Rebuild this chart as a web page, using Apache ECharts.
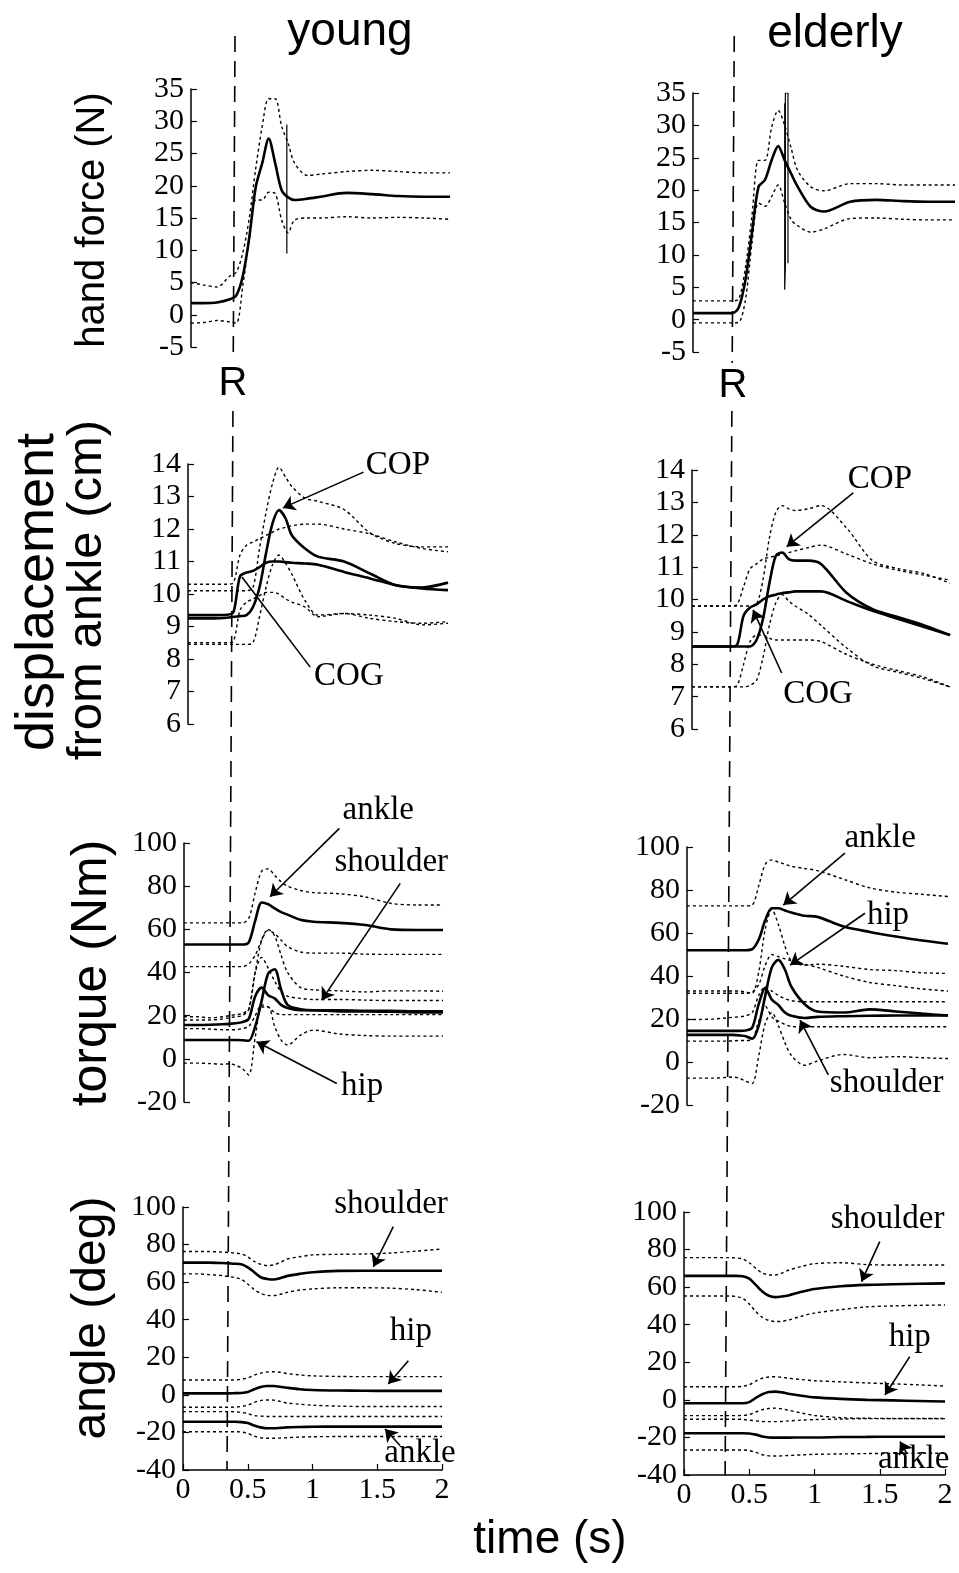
<!DOCTYPE html>
<html>
<head>
<meta charset="utf-8">
<script src="https://cdn.jsdelivr.net/npm/echarts/dist/echarts.min.js"></script>
<style>html,body{margin:0;padding:0;background:#fff}#main{width:959px;height:1573px}</style>
</head>
<body>
<div id="main"></div>
<script>
// time base (s) shared by every trace
var T = [0, 0.1, 0.2, 0.3, 0.35, 0.4, 0.45, 0.5, 0.55, 0.6, 0.65, 0.7, 0.75, 0.8, 0.9, 1.0, 1.2, 1.4, 1.6, 1.8, 2.0];

// axis ranges [min, max, step]
var forceAxis = [-5, 35, 5];
var dispAxis = [6, 14, 1];
var torqueAxis = [-20, 100, 20];
var angleAxis = [-40, 100, 20];
var timeAxis = [0, 2, 0.5];
var rYoung = 0.34, rOld = 0.315;

// hand force (N)
var yfMean = [1.8,1.8,1.9,2.4,3,6,12,19.8,23.5,27.3,23.5,19.3,18.2,17.8,18,18.3,18.9,18.7,18.4,18.3,18.3];
var yfUp   = [5,4.6,4.3,6,6.6,9.6,15,22.7,29.2,33.5,33.5,29.2,26.6,23.5,21.6,21.8,22.2,22.4,22.2,22,22];
var yfLow  = [-1.3,-1.2,-0.9,-1.1,-1.3,4.5,11.6,17.8,17.8,19,18.8,14.7,12.7,14.7,15,15,15.2,15,15.1,15,14.8];
var yfSpikeT = [0.74, 0.74];
var yfSpikeV = [29.5, 9.5];
var efMean = [1,1,1,1,1.9,6.1,13.4,20.5,21.6,24.6,26.8,24.6,22.5,20.5,17.4,16.7,18.2,18.5,18.3,18.2,18.2];
var efUp   = [2.9,2.9,2.9,2.9,3.2,8,16,24.6,24.6,29.7,32.3,30,26.4,23,20.5,19.9,21,21,20.8,20.8,20.8];
var efLow  = [-0.5,-0.5,-0.5,-0.5,-0.4,3,11.8,18,17.5,19,20.8,18,15.4,14.5,13.5,14,15.6,15.7,15.5,15.4,15.4];
var efSpikeT = [0.70, 0.70, 0.705, 0.705, 0.725, 0.725];
var efSpikeV = [33.4, 4.6, 8.2, 35, 35, 8.7];

// displacement from ankle (cm)
var ydCopMean = [9.25,9.25,9.25,9.27,9.3,9.32,9.35,9.6,10.2,11.25,12.17,12.58,12.33,11.8,11.4,11.15,11.0,10.63,10.27,10.2,10.35];
var ydCopUp   = [10.1,10.1,10.1,10.1,10.1,10.1,10.1,10.2,11.4,12.5,13.4,13.9,13.6,13.3,12.95,12.85,12.6,11.88,11.55,11.45,11.45];
var ydCopLow  = [8.45,8.45,8.45,8.45,8.45,8.45,8.45,8.5,9.3,10.2,10.9,11.2,10.95,10.6,9.8,9.35,9.4,9.35,9.25,9.05,9.1];
var ydCogMean = [9.35,9.35,9.35,9.36,9.45,10.54,10.66,10.71,10.83,10.96,11.0,11.0,10.98,10.96,10.94,10.9,10.68,10.48,10.27,10.17,10.12];
var ydCogUp   = [10.3,10.3,10.3,10.3,10.35,11.2,11.5,11.6,11.7,11.8,11.9,12.0,12.05,12.1,12.15,12.15,12.0,11.85,11.6,11.4,11.3];
var ydCogLow  = [8.5,8.5,8.5,8.5,8.55,9.5,9.75,9.85,9.95,10.05,10.05,10.0,9.85,9.75,9.6,9.3,9.4,9.25,9.15,9.1,9.15];
var edCopMean = [8.55,8.55,8.55,8.55,8.55,8.55,8.55,8.75,9.4,10.5,11.35,11.45,11.25,11.2,11.2,11.1,10.2,9.7,9.45,9.2,8.9];
var edCopUp   = [9.8,9.8,9.8,9.8,9.8,9.8,9.8,9.85,10.6,11.9,12.7,12.9,12.8,12.75,12.8,12.9,12.2,11.2,10.95,10.8,10.5];
var edCopLow  = [7.3,7.3,7.3,7.3,7.3,7.3,7.35,7.5,8.2,9.2,9.9,10.15,9.95,9.8,9.55,9.2,8.5,7.95,7.75,7.55,7.3];
var edCogMean = [8.55,8.55,8.55,8.55,8.6,9.5,9.75,9.85,10.0,10.1,10.15,10.2,10.22,10.25,10.25,10.25,9.95,9.65,9.4,9.15,8.9];
var edCogUp   = [9.8,9.8,9.8,9.8,9.85,10.4,10.95,11.1,11.25,11.3,11.35,11.4,11.45,11.5,11.6,11.68,11.4,11.1,10.9,10.75,10.6];
var edCogLow  = [7.3,7.3,7.3,7.3,7.35,8.0,8.7,8.9,8.9,8.8,8.75,8.75,8.75,8.75,8.75,8.7,8.3,8.0,7.8,7.6,7.3];

// torque (Nm)
var ytAnkMean = [53,53,53,53,53,53,53,54,64,72.4,71.6,69.7,68,66.8,64.4,63.5,63,62,60,59.7,59.7];
var ytAnkUp   = [63,63,63,63,63,63,63,65,77,87,88,85,82,80,78,77,76.5,75,72,71.3,71.3];
var ytAnkLow  = [42.7,42.7,42.7,42.7,42.7,42.7,42.7,44,48,55,59.5,58,55,52,49.5,49,49,48.5,48.4,48.4,48.4];
var ytHipMean = [8.7,8.7,8.7,8.7,8.7,8.7,8.6,8.4,15,27,39.5,41.5,32,25,23,22.5,22.5,22.3,22.3,22,22];
var ytHipUp   = [19.5,19.5,19,19.5,20,20.5,21,23,40,55,60,57,48,40,33,32,31.5,31,31.5,31.5,31.3];
var ytHipLow  = [-2,-2,-2.2,-2.5,-2.3,-3,-4.5,-7.5,10,24,24,15,8.7,6.4,11,13.3,11.5,10.8,10.5,10.5,10.5];
var ytShoMean = [15.7,15.7,15.8,16,16.2,16.5,17,18.5,29,33,29.5,28,25,23.5,22.5,22.5,22,22,21.8,21.5,21.5];
var ytShoUp   = [18,18,18,18.5,19,19.5,20,23,40,47,42,36,31,29,28,27.5,27.5,27.2,27,27,27];
var ytShoLow  = [14,14,13.8,13.5,13.5,13.5,14,15,20,25,24,21.5,20.5,20.5,20.5,20.5,20.5,20.5,20.5,20.5,20.5];
var etAnkMean = [52,52,52,52,52,52,52,52.5,57,66,71.5,71.5,70.5,69.5,68,67.5,63,60.5,58.4,56.5,55];
var etAnkUp   = [72.6,72.6,72.6,72.6,72.6,72.6,72.6,73,82,92,94,93,92,91,90,89,85,81,79,78,77];
var etAnkLow  = [32,32,32,32,32,32,32,32.5,36,45,50,49,48,47,45.5,44,40,37,35.5,34,33];
var etHipMean = [12.6,12.6,12.6,12.6,12.6,12.4,12,10.8,17,31,44,47.5,43,35,27,23.5,23,24.5,23.5,22.5,21.6];
var etHipUp   = [33,33,33,33,33,33,32.5,32,42,62,71,64,54,47,45,45.5,44.5,43,42.5,41.5,41.2];
var etHipLow  = [-7.5,-7.5,-7.5,-7.2,-7,-7.5,-9,-10,3,18,23,17,9,3,-1.5,0.5,3.5,2,2.5,2,1.6];
var etShoMean = [14.5,14.5,14.5,14.5,14.5,14.5,14.7,16,27,34.5,29,26.5,23,21.5,20.5,21,21.3,21.5,21.6,21.6,21.6];
var etShoUp   = [19.8,19.8,20,20.5,20.8,21,21.5,23,31,35,33,31,29.5,28.5,28,28,28,28,28,28,28];
var etShoLow  = [9.7,9.7,9.7,9.7,9.8,10,10,10.5,19,26,21,19,17.5,16.5,16.4,16.4,16.4,16.4,16.4,16.4,16.4];

// angle (deg)
var yaShoMean = [70.4,70.4,70.4,70.2,70,69.8,69.5,67.9,65.3,62.6,61.7,61.4,62.1,63.2,64.4,65.3,66,66.1,66.1,66.1,66.1];
var yaShoUp   = [76.3,76.3,76.3,76,75.8,75.5,75,73.5,71,69.5,68.8,69.2,70.5,72.2,73.5,74.5,74.8,75,75.5,76.5,77.6];
var yaShoLow  = [64.4,64.4,64,63.5,63,62.5,61.5,59,56,54,53,52.8,53.5,54.5,55.8,56.4,57,57,56.8,56,54.6];
var yaHipMean = [0.8,0.8,0.8,0.8,0.8,0.9,1.0,1.5,3,4.2,4.7,4.7,4.3,3.8,3,2.6,2.3,2.2,2.1,2.1,2.1];
var yaHipUp   = [7.9,7.9,7.9,7.9,7.9,8,8.3,9,10.5,11.6,12.2,12.3,12,11.4,10.6,10.1,9.8,9.7,9.7,9.7,9.7];
var yaHipLow  = [-6.6,-6.6,-6.6,-6.6,-6.6,-6.5,-6.2,-5.5,-4,-3,-2.7,-2.8,-3.5,-4.3,-5,-5.5,-6,-6.2,-6.2,-6.2,-6.2];
var yaAnkMean = [-14.3,-14.3,-14.3,-14.3,-14.3,-14.3,-14.5,-15,-16.3,-17.3,-17.8,-17.8,-17.6,-17.3,-17.1,-17,-16.9,-16.9,-16.9,-16.9,-16.9];
var yaAnkUp   = [-8.9,-8.9,-8.9,-8.9,-8.9,-9,-9.3,-10,-11,-11.3,-11.5,-11.5,-11.5,-11.5,-11.5,-11.5,-11.5,-11.5,-11.5,-11.5,-11.5];
var yaAnkLow  = [-19.6,-19.6,-19.6,-19.6,-19.6,-19.6,-19.8,-20.5,-22,-22.8,-23.1,-23.1,-23,-22.8,-22.5,-22.3,-22.2,-22.2,-22.2,-22.2,-22.2];
var eaShoMean = [66,66,66,66,66,66,65.8,64.5,61.2,57.7,55.4,54.7,55,55.6,57.5,59,60.5,61.2,61.5,61.8,62];
var eaShoUp   = [75.7,75.7,75.7,75.7,75.7,75.5,75,73,70,67.5,66.5,66.5,67.5,69,71,72.5,73,72,71.8,71.8,71.8];
var eaShoLow  = [55.3,55.3,55.3,55.3,55.3,55,54,51,47,44,42.3,41.7,41.8,42.5,44.5,46.2,48,49.5,50,50.3,50.5];
var eaHipMean = [-1.8,-1.8,-1.8,-1.8,-1.8,-1.8,-1.8,-1.2,1,3,4.2,4.4,4,3.3,2.2,1.3,0.5,0,-0.3,-0.6,-0.9];
var eaHipUp   = [7,7,7,7,7,7,7.2,8,10,11.5,12.2,12.3,12,11.5,10.8,10.2,9.6,9,8.5,8,7.3];
var eaHipLow  = [-8.4,-8.4,-8.4,-8.4,-8.4,-8.4,-8.3,-7.8,-6.5,-5.2,-4.6,-4.4,-4.8,-5.5,-7,-8.3,-9.5,-9.8,-9.9,-9.9,-9.9];
var eaAnkMean = [-17.8,-17.8,-17.8,-17.8,-17.8,-17.8,-17.8,-17.9,-18.5,-19.5,-20,-20.1,-20.1,-20.1,-20,-20,-19.8,-19.7,-19.6,-19.6,-19.6];
var eaAnkUp   = [-10.3,-10.3,-10.3,-10.3,-10.3,-10.3,-10.4,-10.8,-11.2,-11.5,-11.6,-11.6,-11.5,-11.2,-10.8,-10.5,-10.2,-10,-10,-10,-10];
var eaAnkLow  = [-26.7,-26.7,-26.7,-26.7,-26.7,-26.7,-26.7,-27,-28,-29.2,-29.8,-29.9,-29.8,-29.6,-29.3,-29,-28.8,-28.6,-28.5,-28.4,-28.4];

// annotations: text, label x, label y, arrow from x, y, arrow to x, y, arrowhead
var ydNotes = [['COP',1.615,13.97,1.35,13.75,0.73,12.65,1], ['COG',1.238,7.48,0.94,7.75,0.415,10.52,0]];
var edNotes = [['COP',1.457,13.72,1.25,13.29,0.734,11.63,1], ['COG',0.977,7.06,0.695,7.73,0.473,9.68,1]];
var ytNotes = [['ankle',1.5,115,1.2,106.8,0.664,75.1,1], ['shoulder',1.6,91,1.67,81.3,1.063,27.2,1], ['hip',1.375,-12.6,1.18,-11.4,0.56,7.9,1]];
var etNotes = [['ankle',1.48,104,1.21,97.1,0.738,73,1], ['hip',1.54,68.4,1.364,69.2,0.79,45.1,1], ['shoulder',1.53,-9.8,1.083,-6,0.866,19.5,1]];
var yaNotes = [['shoulder',1.606,101.6,1.624,89.5,1.47,68.2,1], ['hip',1.76,34,1.74,18.2,1.585,5.8,1], ['ankle',1.83,-30.9,1.676,-27,1.56,-18.2,1]];
var eaNotes = [['shoulder',1.56,96.3,1.5,84.2,1.36,62.9,1], ['hip',1.73,33.5,1.73,23,1.54,2.6,1], ['ankle',1.76,-31.5,1.706,-28.4,1.655,-22.2,1]];

var SERIF = 'Liberation Serif', SANS = 'Liberation Sans';

var panels = [
  {box: [191, 89, 259, 258], axis: forceAxis, R: rYoung, sd: [yfUp, yfLow], mean: [yfMean], spike: [yfSpikeT, yfSpikeV], notes: []},
  {box: [693, 93, 262, 259], axis: forceAxis, R: rOld, sd: [efUp, efLow], mean: [efMean], spike: [efSpikeT, efSpikeV], notes: []},
  {box: [188, 464, 260, 260], axis: dispAxis, R: rYoung, sd: [ydCopUp, ydCopLow, ydCogUp, ydCogLow], mean: [ydCopMean, ydCogMean], notes: ydNotes},
  {box: [692, 470, 258, 259], axis: dispAxis, R: rOld, sd: [edCopUp, edCopLow, edCogUp, edCogLow], mean: [edCopMean, edCogMean], notes: edNotes},
  {box: [184, 843, 259, 259], axis: torqueAxis, R: rYoung, sd: [ytAnkUp, ytAnkLow, ytHipUp, ytHipLow, ytShoUp, ytShoLow], mean: [ytAnkMean, ytHipMean, ytShoMean], notes: ytNotes},
  {box: [687, 847, 261, 258], axis: torqueAxis, R: rOld, sd: [etAnkUp, etAnkLow, etHipUp, etHipLow, etShoUp, etShoLow], mean: [etAnkMean, etHipMean, etShoMean], notes: etNotes},
  {box: [183, 1207, 259, 263], axis: angleAxis, R: rYoung, sd: [yaShoUp, yaShoLow, yaHipUp, yaHipLow, yaAnkUp, yaAnkLow], mean: [yaShoMean, yaHipMean, yaAnkMean], notes: yaNotes, bottom: true},
  {box: [684, 1212, 261, 263], axis: angleAxis, R: rOld, sd: [eaShoUp, eaShoLow, eaHipUp, eaHipLow, eaAnkUp, eaAnkLow], mean: [eaShoMean, eaHipMean, eaAnkMean], notes: eaNotes, bottom: true}
];

function pairs(xs, ys) {
  return xs.map(function (x, i) { return [x, ys[i]]; });
}

var grids = [], xAxes = [], yAxes = [], series = [];
panels.forEach(function (p, i) {
  grids.push({left: p.box[0], top: p.box[1], width: p.box[2], height: p.box[3], containLabel: false, outerBoundsMode: 'none'});
  xAxes.push({
    gridIndex: i, type: 'value', min: timeAxis[0], max: timeAxis[1], interval: timeAxis[2],
    show: !!p.bottom,
    axisLine: {show: true, onZero: false, lineStyle: {color: '#000', width: 1.5}},
    axisTick: {show: true, inside: true, length: 6, lineStyle: {color: '#000', width: 1.2}},
    axisLabel: {show: true, color: '#000', fontFamily: SERIF, fontSize: 30, margin: 5},
    splitLine: {show: false}
  });
  yAxes.push({
    gridIndex: i, type: 'value', min: p.axis[0], max: p.axis[1], interval: p.axis[2],
    axisLine: {show: true, onZero: false, lineStyle: {color: '#000', width: 1.5}},
    axisTick: {show: true, inside: true, length: 6, lineStyle: {color: '#000', width: 1.2}},
    // labels sit a little above their ticks in the original
    axisLabel: {color: '#000', fontFamily: SERIF, fontSize: 30, margin: 7, padding: [0, 0, 12, 0]},
    splitLine: {show: false}
  });
  p.sd.forEach(function (arr) {
    series.push({type: 'line', xAxisIndex: i, yAxisIndex: i, data: pairs(T, arr), symbol: 'none', smooth: 0.3, silent: true,
      lineStyle: {color: '#000', width: 1.4, type: [3, 3]}});
  });
  p.mean.forEach(function (arr) {
    series.push({type: 'line', xAxisIndex: i, yAxisIndex: i, data: pairs(T, arr), symbol: 'none', smooth: 0.3, silent: true,
      lineStyle: {color: '#000', width: 2.6}});
  });
  if (p.spike) {
    series.push({type: 'line', xAxisIndex: i, yAxisIndex: i, data: pairs(p.spike[0], p.spike[1]), symbol: 'none', silent: true,
      lineStyle: {color: '#000', width: 1.2}});
  }
  if (p.notes.length) {
    series.push({type: 'scatter', xAxisIndex: i, yAxisIndex: i, clip: false, silent: true, symbolSize: 1,
      itemStyle: {color: 'rgba(255,255,255,0)'},
      label: {show: true, position: 'inside', formatter: '{b}', color: '#000', opacity: 1,
        textBorderWidth: 0, fontFamily: SERIF, fontSize: 33},
      data: p.notes.map(function (n) { return {name: n[0], value: [n[1], n[2]]}; })});
    [1, 0].forEach(function (head) {
      var d = p.notes.filter(function (n) { return n[7] === head; });
      if (!d.length) return;
      series.push({type: 'lines', coordinateSystem: 'cartesian2d', xAxisIndex: i, yAxisIndex: i, clip: false, silent: true,
        symbol: head ? ['none', 'arrow'] : ['none', 'none'], symbolSize: 12,
        lineStyle: {color: '#000', width: 1.6, opacity: 1},
        data: d.map(function (n) { return {coords: [[n[3], n[4]], [n[5], n[6]]]}; })});
    });
  }
});

var chart = echarts.init(document.getElementById('main'));
chart.setOption({
  animation: false,
  backgroundColor: '#fff',
  grid: grids, xAxis: xAxes, yAxis: yAxes, series: series
});

// dashed "R" line: straight from the top panel down to the bottom panel of a column
function rLine(col) {
  var p0 = panels[col], p3 = panels[6 + col];
  var top = chart.convertToPixel({gridIndex: col}, [p0.R, p0.axis[1]]);
  var bot = chart.convertToPixel({gridIndex: 6 + col}, [p3.R, p3.axis[0]]);
  return {type: 'line', z: 50, shape: {x1: top[0], y1: 36, x2: bot[0], y2: bot[1]},
    style: {stroke: '#000', lineWidth: 1.6, lineDash: [16, 9]}};
}

function txt(s, x, y, size, rot, extra) {
  var st = {text: s, fontFamily: SANS, fontSize: size, fill: '#000', align: 'center', verticalAlign: 'middle'};
  for (var k in extra) st[k] = extra[k];
  return {type: 'text', x: x, y: y, rotation: rot || 0, z: 60, style: st};
}

var V = Math.PI / 2;
chart.setOption({
  graphic: [
    rLine(0), rLine(1),
    txt('young', 350, 32, 46),
    txt('elderly', 835, 34, 46),
    txt('time (s)', 550, 1540, 46),
    txt('R', 233, 384, 40, 0, {backgroundColor: '#fff', padding: [3, 5]}),
    txt('R', 733, 386, 40, 0, {backgroundColor: '#fff', padding: [3, 5]}),
    txt('hand force (N)', 93, 220, 40, V),
    txt('displacement', 38, 592, 54, V),
    txt('from ankle (cm)', 87, 590, 49, V),
    txt('torque (Nm)', 92, 973, 50, V),
    txt('angle (deg)', 92, 1318, 48, V)
  ]
});
</script>
</body>
</html>
